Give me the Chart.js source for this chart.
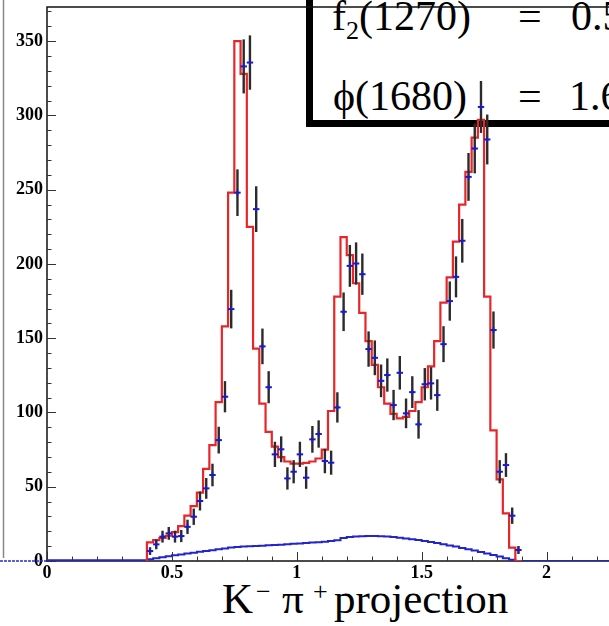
<!DOCTYPE html>
<html>
<head>
<meta charset="utf-8">
<script src="https://cdn.jsdelivr.net/npm/chart.js@4/dist/chart.umd.min.js"></script>
<style>
html, body { margin: 0; padding: 0; background: #fff; overflow: hidden; }
#wrap { position: relative; width: 609px; height: 626px; overflow: hidden; background: #fff; }
#c { position: absolute; left: 0; top: 0; z-index: 2; }
.box { position: absolute; left: 306px; top: -60px; width: 400px; height: 173px; border: 7px solid #000; background: #fff; }
.t { position: absolute; font-family: 'Liberation Serif', 'Times New Roman', serif; font-size: 42px; line-height: 42px; white-space: nowrap; color: #000; }
.t sub { font-size: 62%; position: relative; top: 0.35em; vertical-align: baseline; }
.xt { position: absolute; font-family: 'Liberation Serif', 'Times New Roman', serif; font-size: 43px; line-height: 43px; white-space: nowrap; color: #000; }
.xt.s { font-size: 26px; line-height: 26px; }
</style>
</head>
<body>
<div id="wrap">
  <div class="box"></div>
  <div class="t" style="left:332px; top:-5px;">f<sub>2</sub>(1270)</div>
  <div class="t" style="left:518px; top:-5px;">=</div>
  <div class="t" style="left:571px; top:-5px;">0.5</div>
  <div class="t" style="left:333px; top:75px;">ϕ(1680)</div>
  <div class="t" style="left:518px; top:75px;">=</div>
  <div class="t" style="left:569px; top:75px;">1.6</div>
  <div class="xt" style="left:222px; top:577px;">K</div>
  <div class="xt s" style="left:256px; top:579px;">−</div>
  <div class="xt" style="left:282px; top:577px;">π</div>
  <div class="xt s" style="left:313px; top:579px;">+</div>
  <div class="xt" style="left:334px; top:577px;">projection</div>
  <canvas id="c" width="609" height="626"></canvas>
</div>
<script>
// K- pi+ mass projection, 60 bins of 0.025 from 0.4 to 1.9
const binStart = 0.4;
const binWidth = 0.025;
const xMin = 0, xMax = 2.25;
const yMin = 0, yMax = 373;
const xTicks = [0, 0.5, 1, 1.5, 2];
const yTicks = [0, 50, 100, 150, 200, 250, 300, 350];

const dataCounts = [
  6.7, 11.2, 16.4, 18.6, 16.4, 16.8, 23, 29.8, 40.4, 48.9,
  57.9, 81.4, 110.6, 169.6, 248, 333, 335.6, 236.9, 144.5, 117,
  71.8, 75.2, 55.6, 60.1, 71.8, 56.1, 81.9, 85.5, 67.3, 66.2,
  103.4, 167.8, 198.7, 200.3, 193.1, 142.7, 136.8, 121.3, 125.2, 105,
  126.7, 99.4, 113.7, 92, 119, 119.6, 111.7, 146, 175, 191.3,
  215.6, 258.6, 277.7, 305.7, 283.8, 155.5, 60.1, 64.6, 30.5, 7.4
];
const dataErrors = [
  2.6, 3.3, 4.0, 4.3, 4.0, 4.1, 4.8, 5.5, 6.4, 7.0,
  7.6, 9.0, 10.5, 13.0, 15.7, 18.2, 18.3, 15.4, 12.0, 10.8,
  8.5, 8.7, 7.5, 7.8, 8.5, 7.5, 9.0, 9.2, 8.2, 8.1,
  10.2, 13.0, 14.1, 14.2, 13.9, 11.9, 11.7, 11.0, 11.2, 10.2,
  11.3, 10.0, 10.7, 9.6, 10.9, 10.9, 10.6, 12.1, 13.2, 13.8,
  14.7, 16.1, 16.7, 17.5, 16.8, 12.5, 7.8, 8.0, 5.5, 2.7
];
const fitValues = [
  10, 12.5, 14, 15.5, 17, 19.5, 23.5, 30.5, 37, 46,
  62, 78, 107, 158, 248, 350, 328, 225, 143, 106,
  87, 77, 70, 67, 65.5, 65.5, 66, 67, 69, 75,
  101, 178, 218, 206, 187, 167, 148, 132, 117, 106,
  99, 96, 97, 101, 107, 117, 131, 148, 174, 191,
  215, 240, 262, 285, 297, 178, 88, 55, 32, 9
];
const bgValues = [
  0.5, 1.2, 1.9, 2.6, 3.2, 3.8, 4.4, 5.0, 5.6, 6.2,
  6.8, 7.3, 7.9, 8.5, 9.1, 9.5, 9.7, 9.9, 10.1, 10.3,
  10.6, 10.8, 11.0, 11.3, 11.6, 11.8, 12.1, 12.4, 12.7, 13.0,
  13.4, 14.0, 15.5, 16.2, 16.5, 16.7, 16.8, 16.8, 16.7, 16.5,
  16.1, 15.7, 15.2, 14.7, 14.1, 13.5, 12.8, 12.1, 11.3, 10.5,
  9.7, 8.8, 7.9, 7.0, 6.0, 5.0, 4.0, 3.0, 1.9, 0.8
];

const nBins = fitValues.length;
const binEnd = binStart + nBins * binWidth;
const lowEdge = i => binStart + i * binWidth;

const fitPoints = [{ x: binStart, y: 0 }]
  .concat(fitValues.map((v, i) => ({ x: lowEdge(i), y: v })))
  .concat([{ x: binEnd, y: 0 }]);
const bgPoints = [{ x: xMin, y: 0 }]
  .concat(bgValues.map((v, i) => ({ x: lowEdge(i), y: v })))
  .concat([{ x: binEnd, y: 0 }, { x: xMax, y: 0 }]);
const dataPoints = dataCounts.map((v, i) => ({ x: lowEdge(i) + binWidth / 2, y: v }));

// frame with inward ticks, plus the edge of the neighbouring panel
const frame = {
  id: 'frame',
  beforeDatasetsDraw(chart) {
    const { ctx, chartArea: a, scales: { x, y } } = chart;
    ctx.save();
    ctx.strokeStyle = '#888';
    ctx.lineWidth = 1.5;
    ctx.beginPath(); ctx.moveTo(3.5, 0); ctx.lineTo(3.5, a.bottom - 3); ctx.stroke();
    ctx.strokeStyle = '#2a2ad0';
    ctx.setLineDash([3, 1]);
    ctx.beginPath(); ctx.moveTo(0, a.bottom); ctx.lineTo(a.left, a.bottom); ctx.stroke();
    ctx.setLineDash([]);

    ctx.strokeStyle = '#111';
    ctx.lineWidth = 1.5;
    ctx.beginPath();
    ctx.moveTo(a.right, a.top); ctx.lineTo(a.left, a.top);
    ctx.lineTo(a.left, a.bottom); ctx.lineTo(a.right, a.bottom);
    ctx.stroke();

    ctx.lineWidth = 1;
    ctx.strokeStyle = '#333';
    ctx.beginPath();
    for (let v = yMin; v <= yMax; v += 10) {
      const p = Math.round(y.getPixelForValue(v)) + 0.5;
      const len = v % 50 === 0 ? 9 : 4.5;
      ctx.moveTo(a.left, p); ctx.lineTo(a.left + len, p);
    }
    for (let k = 0; k * 0.1 <= xMax; k++) {
      const p = Math.round(x.getPixelForValue(k * 0.1)) + 0.5;
      const len = k % 5 === 0 ? 9 : 4.5;
      ctx.moveTo(p, a.bottom); ctx.lineTo(p, a.bottom - len);
    }
    ctx.stroke();
    ctx.restore();
  }
};

const errorBars = {
  id: 'errorBars',
  afterDatasetsDraw(chart) {
    const { ctx, scales: { y } } = chart;
    const meta = chart.getDatasetMeta(2);
    ctx.save();
    meta.data.forEach((pt, i) => {
      const top = y.getPixelForValue(dataCounts[i] + dataErrors[i]);
      const bot = y.getPixelForValue(dataCounts[i] - dataErrors[i]);
      ctx.strokeStyle = '#2b2b2b';
      ctx.lineWidth = 2.4;
      ctx.beginPath(); ctx.moveTo(pt.x, top); ctx.lineTo(pt.x, bot); ctx.stroke();
      ctx.strokeStyle = '#1c1cb8';
      ctx.lineWidth = 2;
      ctx.beginPath(); ctx.moveTo(pt.x - 3.2, pt.y); ctx.lineTo(pt.x + 3.2, pt.y); ctx.stroke();
      ctx.lineWidth = 1.6;
      ctx.beginPath(); ctx.moveTo(pt.x, pt.y - 3); ctx.lineTo(pt.x, pt.y + 3); ctx.stroke();
    });
    ctx.restore();
  }
};

const tickFont = { family: "'Liberation Serif', 'Times New Roman', serif", size: 18, weight: 'bold' };
const noPad = s => { s.paddingTop = 0; s.paddingBottom = 0; s.paddingLeft = 0; s.paddingRight = 0; };

new Chart(document.getElementById('c'), {
  type: 'scatter',
  data: {
    datasets: [
      {
        label: 'background',
        data: bgPoints,
        showLine: true,
        stepped: 'after',
        borderColor: '#2424cc',
        borderWidth: 2,
        pointRadius: 0,
        order: 2
      },
      {
        label: 'fit',
        data: fitPoints,
        showLine: true,
        stepped: 'after',
        borderColor: '#e8262a',
        borderWidth: 2.2,
        pointRadius: 0,
        order: 1
      },
      {
        label: 'data',
        data: dataPoints,
        pointRadius: 0,
        order: 0
      }
    ]
  },
  options: {
    responsive: false,
    animation: false,
    layout: { padding: { top: 7, left: 0, right: 0, bottom: 0 } },
    plugins: {
      legend: { display: false },
      tooltip: { enabled: false }
    },
    scales: {
      x: {
        type: 'linear',
        min: xMin,
        max: xMax,
        grid: { display: false, drawTicks: false },
        border: { display: false },
        afterBuildTicks: s => { s.ticks = xTicks.map(v => ({ value: v })); },
        afterFit: s => { s.height = 65; noPad(s); },
        ticks: { color: '#000', font: tickFont, padding: 2, maxRotation: 0, callback: v => String(v) }
      },
      y: {
        min: yMin,
        max: yMax,
        grid: { display: false, drawTicks: false },
        border: { display: false },
        afterBuildTicks: s => { s.ticks = yTicks.map(v => ({ value: v })); },
        afterFit: s => { s.width = 47; noPad(s); },
        ticks: { color: '#000', font: tickFont, padding: 4, callback: v => String(v) }
      }
    }
  },
  plugins: [frame, errorBars]
});
</script>
</body>
</html>
